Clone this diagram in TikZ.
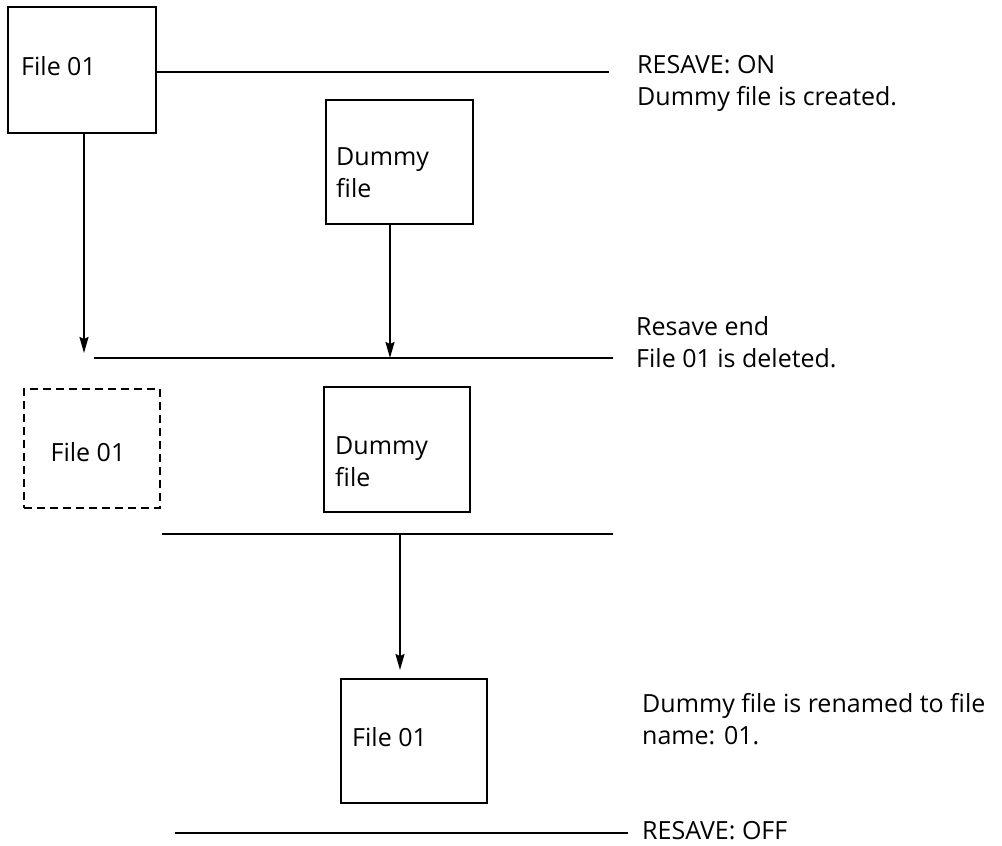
\documentclass[tikz,border=0pt]{standalone}
\usepackage{fontspec}
\setmainfont{Open Sans}
\usetikzlibrary{arrows.meta, positioning}

\begin{document}
\begin{tikzpicture}[
    x=1pt, y=-1pt,
    font=\fontsize{25}{32}\selectfont,
    filebox/.style={rectangle, draw, line width=2pt, anchor=north west, inner sep=0pt},
    gonebox/.style={filebox, dash pattern=on 8pt off 5pt},
    boxtext/.style={anchor=west, align=left, inner sep=0pt},
    note/.style={anchor=west, align=left, inner sep=0pt},
    timeline/.style={line width=2pt},
    arrow/.style={-{Stealth[length=16pt, width=9pt, inset=2pt]}, line width=2pt}
]
\useasboundingbox (0,0) rectangle (1002,846);

% Schritt 1: Datei und Dummy
\node[filebox, minimum width=148pt, minimum height=126pt] (file1) at (7,6) {};
\node[boxtext] (file1txt) at (21,66) {File 01};
\node[filebox, minimum width=147pt, minimum height=124pt] (dummy1) at (325,99) {};
\node[boxtext] (dummy1txt) at (336,173) {Dummy\\file};

% Schritt 2: Original geloescht
\node[gonebox, minimum width=136pt, minimum height=119pt] (gone) at (23,388) {};
\node[boxtext, anchor=center] (gonetxt) at (88,452) {File 01};
\node[filebox, minimum width=146pt, minimum height=125pt] (dummy2) at (323,386) {};
\node[boxtext] (dummy2txt) at (335,462) {Dummy\\file};

% Schritt 3: umbenannt
\node[filebox, minimum width=146pt, minimum height=124pt] (file3) at (340,678) {};
\node[boxtext] (file3txt) at (352,737) {File 01};

% Zeitlinien
\coordinate (onend) at (609,72);
\coordinate (endA) at (94,358);
\coordinate (endB) at (613,358);
\coordinate (renA) at (162,534);
\coordinate (renB) at (613,534);
\coordinate (drop) at (400,534);
\coordinate (offA) at (175,833);
\coordinate (offB) at (628,833);

% Texte rechts
\node[note] (ontxt) at (637,83) {RESAVE: ON\\Dummy file is created.};
\node[note] (endtxt) at (636,342) {Resave end\\File 01 is deleted.};
\node[note] (rentxt) at (642,719) {Dummy file is renamed to file\\name: 01.};
\node[note] (offtxt) at (642,831) {RESAVE: OFF};

% Linien
\draw[timeline] (file1.east |- onend) -- (onend);
\draw[timeline] (endA) -- (endB);
\draw[timeline] (renA) -- (renB);
\draw[timeline] (offA) -- (offB);

% Pfeile
\draw[arrow] ([xshift=2pt]file1.south) -- ([xshift=2pt]file1.south |- 0,353);
\draw[arrow] ([xshift=-9.5pt]dummy1.south) -- ([xshift=-9.5pt]dummy1.south |- endB);
\draw[arrow, shorten >=8pt] (drop) -- (drop |- file3.north);

\end{tikzpicture}
\end{document}
